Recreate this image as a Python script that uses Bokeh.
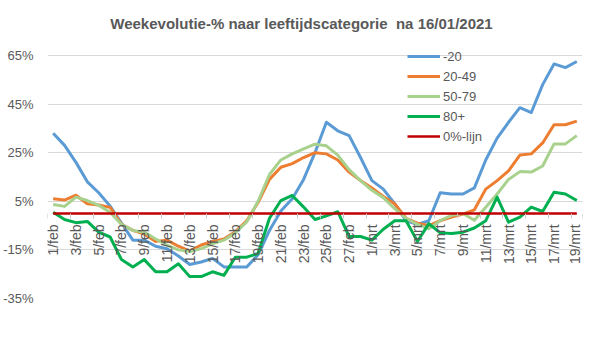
import math
from bokeh.plotting import figure
from bokeh.models import (Range1d, FixedTicker, PrintfTickFormatter, Legend,
                          LegendItem, Label, ColumnDataSource)
from bokeh.embed import file_html
from bokeh.resources import INLINE

# ---------------- data ----------------
dates = [f"{d}/feb" for d in range(1, 29)] + [f"{d}/mrt" for d in range(1, 20)]

age_0_19 = [33, 28, 21, 13, 8.5, 3, -4, -11, -11, -13.5, -14.5, -17.5, -21, -20,
            -18.5, -22, -22, -22, -17, -7, 1, 6, 14, 25, 37.5, 34, 32, 23, 13.5,
            10, 4, -3, -4.5, -3, 8.5, 8, 8, 10.5, 22, 31, 37.5, 43.5, 41.5, 53,
            61.5, 60, 62.5]

age_20_49 = [6, 5.5, 7.5, 4, 3.5, 2.5, -4.5, -7, -8.5, -11.5, -11, -13.5, -15.5,
             -13, -11.5, -10.5, -7.5, -3, 4.5, 14, 19, 20.5, 23, 25, 24.5, 22, 17,
             13.5, 10.5, 7, 4, -2, -4, -5, -3, -1.5, -0.3, 1.5, 10, 13.5, 17.5, 24,
             24.5, 29, 36.5, 36.5, 38]

age_50_79 = [3.7, 2.9, 6.7, 5.3, 3.3, 0.5, -4.5, -7, -7.7, -10.5, -13, -15, -15.7,
             -14.5, -12.5, -11, -8, -3.5, 5, 16, 22, 24.5, 26.6, 28.5, 27.8, 24, 18,
             13.5, 9.5, 6.5, 2, -2, -4.5, -6.3, -3, -0.8, 0, -2.8, 2.5, 8, 14, 17.2,
             17, 19.5, 28.6, 28.6, 32]

age_80_plus = [0.5, -2.5, -3.8, -3.3, -7.7, -9.7, -19, -22, -19, -24, -24, -20.7,
               -26, -26, -24, -25.5, -18, -18, -16.5, -2, 5.3, 7.4, 2.6, -2.5, -1,
               0.7, -9.5, -9.5, -11, -6.5, -3, -3, -11.5, -4.2, -8, -8.3, -7.7, -6,
               -3, 6.7, -3.6, -1.5, 2.6, 0.8, 8.7, 8, 5.3]

zero_line = [0] * 47

y_ticks = [-35, -15, 5, 25, 45, 65]

series_names = ["-20", "20-49", "50-79", "80+", "0%-lijn"]
series_colors = ["#5B9BD5", "#ED7D31", "#A9D18E", "#00B050", "#C00000"]

title_text = "Weekevolutie-% naar leeftijdscategorie\u00a0 na 16/01/2021"

# ---------------- figure ----------------
idx = list(range(len(dates)))
src = ColumnDataSource(dict(x=idx, a=age_0_19, b=age_20_49, c=age_50_79,
                            d=age_80_plus, z=zero_line))

TXT = "#595959"
FONT = "Liberation Sans"

# frame spans the full height above the plot area so that the title and the
# legend (which sit above the top gridline) are not clipped
p = figure(width=583, height=343, output_backend="svg", toolbar_location=None,
           title=None,
           x_range=Range1d(-0.5, len(dates) - 0.5), y_range=Range1d(-35, 87.6),
           min_border_left=47, min_border_right=1, min_border_top=0,
           min_border_bottom=45)
p.outline_line_color = None
p.background_fill_color = "white"
p.border_fill_color = "white"

# y axis
p.yaxis.ticker = FixedTicker(ticks=y_ticks, minor_ticks=[])
p.yaxis.formatter = PrintfTickFormatter(format="%d%%")
p.yaxis.axis_line_color = None
p.yaxis.major_tick_line_color = None
p.yaxis.minor_tick_line_color = None
p.yaxis.major_tick_out = 0
p.yaxis.major_tick_in = 0
p.yaxis.major_label_standoff = 14
p.yaxis.major_label_text_font = FONT
p.yaxis.major_label_text_font_size = "13px"
p.yaxis.major_label_text_color = TXT

p.ygrid.ticker = FixedTicker(ticks=y_ticks)
p.ygrid.grid_line_color = "#D9D9D9"
p.ygrid.grid_line_width = 1
p.xgrid.visible = False

# x axis at y = 0
label_idx = idx[::2]
p.xaxis.fixed_location = 0
p.xaxis.ticker = FixedTicker(ticks=label_idx,
                             minor_ticks=[i - 0.5 for i in label_idx] + [len(dates) - 0.5])
p.xaxis.major_label_overrides = {i: dates[i] for i in label_idx}
p.xaxis.major_label_orientation = math.pi / 2
p.xaxis.axis_line_color = None
p.xaxis.major_tick_line_color = None
p.xaxis.major_tick_out = 0
p.xaxis.major_tick_in = 0
p.xaxis.minor_tick_line_color = "#C8C8C8"
p.xaxis.minor_tick_out = 5
p.xaxis.minor_tick_in = 0
p.xaxis.major_label_standoff = 6
p.xaxis.major_label_text_font = FONT
p.xaxis.major_label_text_font_size = "14px"
p.xaxis.major_label_text_color = TXT

# lines
renderers = []
for col, color, w in zip(["a", "b", "c", "d", "z"], series_colors,
                         [3, 3, 3, 3, 2.5]):
    r = p.line("x", col, source=src, line_color=color, line_width=w,
               line_join="round")
    renderers.append(r)

legend = Legend(items=[LegendItem(label=n, renderers=[r])
                       for n, r in zip(series_names, renderers)],
                location=(360, 152), orientation="vertical",
                glyph_width=33, glyph_height=20, label_height=20,
                label_standoff=3, spacing=0, padding=0, margin=0,
                background_fill_alpha=0, border_line_alpha=0,
                label_text_font=FONT, label_text_font_size="13px",
                label_text_color=TXT)
p.add_layout(legend)

title = Label(x=254, y=275, x_units="screen", y_units="screen", text=title_text,
              text_align="center", text_baseline="middle", text_font=FONT,
              text_font_size="15px", text_font_style="bold", text_color=TXT)
p.add_layout(title)

open("out.html", "w").write(file_html(p, INLINE))
